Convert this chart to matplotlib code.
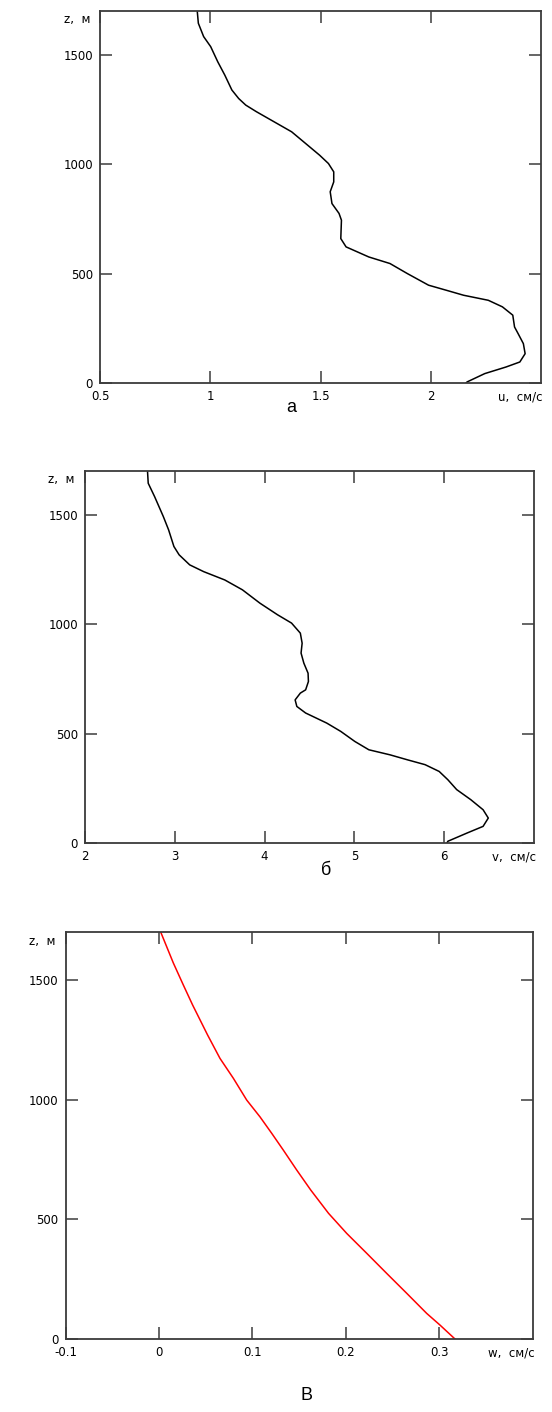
import matplotlib
matplotlib.use("Agg")
import matplotlib.pyplot as plt

# profile u(z)
u_vals = [2.16, 2.165, 2.245, 2.341, 2.404, 2.428, 2.420, 2.396, 2.380, 2.372, 2.325,
          2.261, 2.149, 2.070, 1.990, 1.894, 1.815, 1.719, 1.616, 1.592, 1.595, 1.584,
          1.552, 1.544, 1.560, 1.560, 1.536, 1.496, 1.432, 1.369, 1.289, 1.209, 1.161,
          1.129, 1.098, 1.066, 1.034, 1.002, 0.970, 0.946, 0.941]
u_z = [0, 5, 43, 73, 96, 134, 180, 226, 256, 310, 348,
       378, 401, 424, 447, 500, 546, 576, 622, 660, 744, 775,
       820, 874, 919, 965, 1003, 1041, 1095, 1148, 1194, 1240, 1270,
       1300, 1339, 1407, 1468, 1537, 1583, 1644, 1700]

# profile v(z)
v_vals = [6.03, 6.041, 6.257, 6.433, 6.491, 6.433, 6.296, 6.139, 6.041, 5.944, 5.787,
          5.592, 5.396, 5.161, 5.005, 4.848, 4.692, 4.457, 4.359, 4.340, 4.398, 4.457,
          4.488, 4.484, 4.437, 4.406, 4.418, 4.398, 4.300, 4.144, 3.948, 3.753, 3.557,
          3.322, 3.166, 3.048, 2.990, 2.931, 2.872, 2.775, 2.704, 2.696]
v_z = [0, 8, 46, 76, 114, 152, 198, 244, 289, 327, 358,
       380, 403, 426, 464, 510, 548, 594, 624, 654, 685, 700,
       738, 776, 822, 868, 913, 959, 1005, 1043, 1096, 1157, 1202,
       1240, 1271, 1317, 1355, 1431, 1492, 1583, 1644, 1700]

# profile w(z)
w_vals = [0.3169, 0.3009, 0.2866, 0.2652, 0.2438, 0.2224, 0.2010, 0.1815, 0.1625,
          0.1474, 0.1331, 0.1207, 0.1081, 0.0939, 0.0796, 0.0653, 0.0520, 0.0360,
          0.0260, 0.0153, 0.0018]
w_z = [0, 58, 107, 191, 274, 358, 441, 525, 622,
       706, 789, 859, 928, 998, 1089, 1172, 1270, 1395,
       1479, 1571, 1700]

z_ticks = [0, 500, 1000, 1500]
u_ticks = [0.5, 1, 1.5, 2]
v_ticks = [2, 3, 4, 5, 6]
w_ticks = [-0.1, 0, 0.1, 0.2, 0.3]

W, H = 552, 1412
fig = plt.figure(figsize=(W / 100, H / 100), dpi=100)
fs = 8.5
edge = "#3c3c3c"


def px_axes(left, top, right, bottom):
    return fig.add_axes([left / W, 1 - bottom / H, (right - left) / W, (bottom - top) / H])


def panel(box, x, z, xlim, xticks, color, xlabel):
    left, top, right, bottom = box
    ax = px_axes(*box)
    ax.plot(x, z, color=color, lw=1.1)
    ax.set_xlim(*xlim)
    ax.set_ylim(0, 1700)
    ax.set_xticks(xticks)
    ax.set_yticks(z_ticks)
    ax.set_xticklabels([f"{t:g}" for t in xticks], fontsize=fs)
    ax.set_yticklabels([str(t) for t in z_ticks], fontsize=fs)
    ax.tick_params(direction="in", length=8.6, width=1.1, color=edge,
                   top=True, right=True, pad=5)
    for s in ax.spines.values():
        s.set_linewidth(1.3)
        s.set_color(edge)
    fig.text((right + 2) / W, 1 - (bottom + 14) / H, xlabel,
             ha="right", va="center", fontsize=fs)
    fig.text((left - 10) / W, 1 - (top + 9) / H, "z,  м",
             ha="right", va="center", fontsize=fs)
    return ax


panel((100, 11, 541, 383), u_vals, u_z, (0.5, 2.5), u_ticks, "black", "u,  см/с")
panel((85, 471, 534, 843), v_vals, v_z, (2, 7), v_ticks, "black", "v,  см/с")
panel((65.6, 932, 532.6, 1339), w_vals, w_z, (-0.1, 0.4), w_ticks, "red", "w,  см/с")

fig.text(291 / W, 1 - 408 / H, "а", ha="center", va="center", fontsize=13, family="Liberation Sans")
fig.text(326 / W, 1 - 870 / H, "б", ha="center", va="center", fontsize=13, family="Liberation Sans")
fig.text(306 / W, 1 - 1395 / H, "В", ha="center", va="center", fontsize=13, family="Liberation Sans")

fig.savefig("out.png", dpi=100)
